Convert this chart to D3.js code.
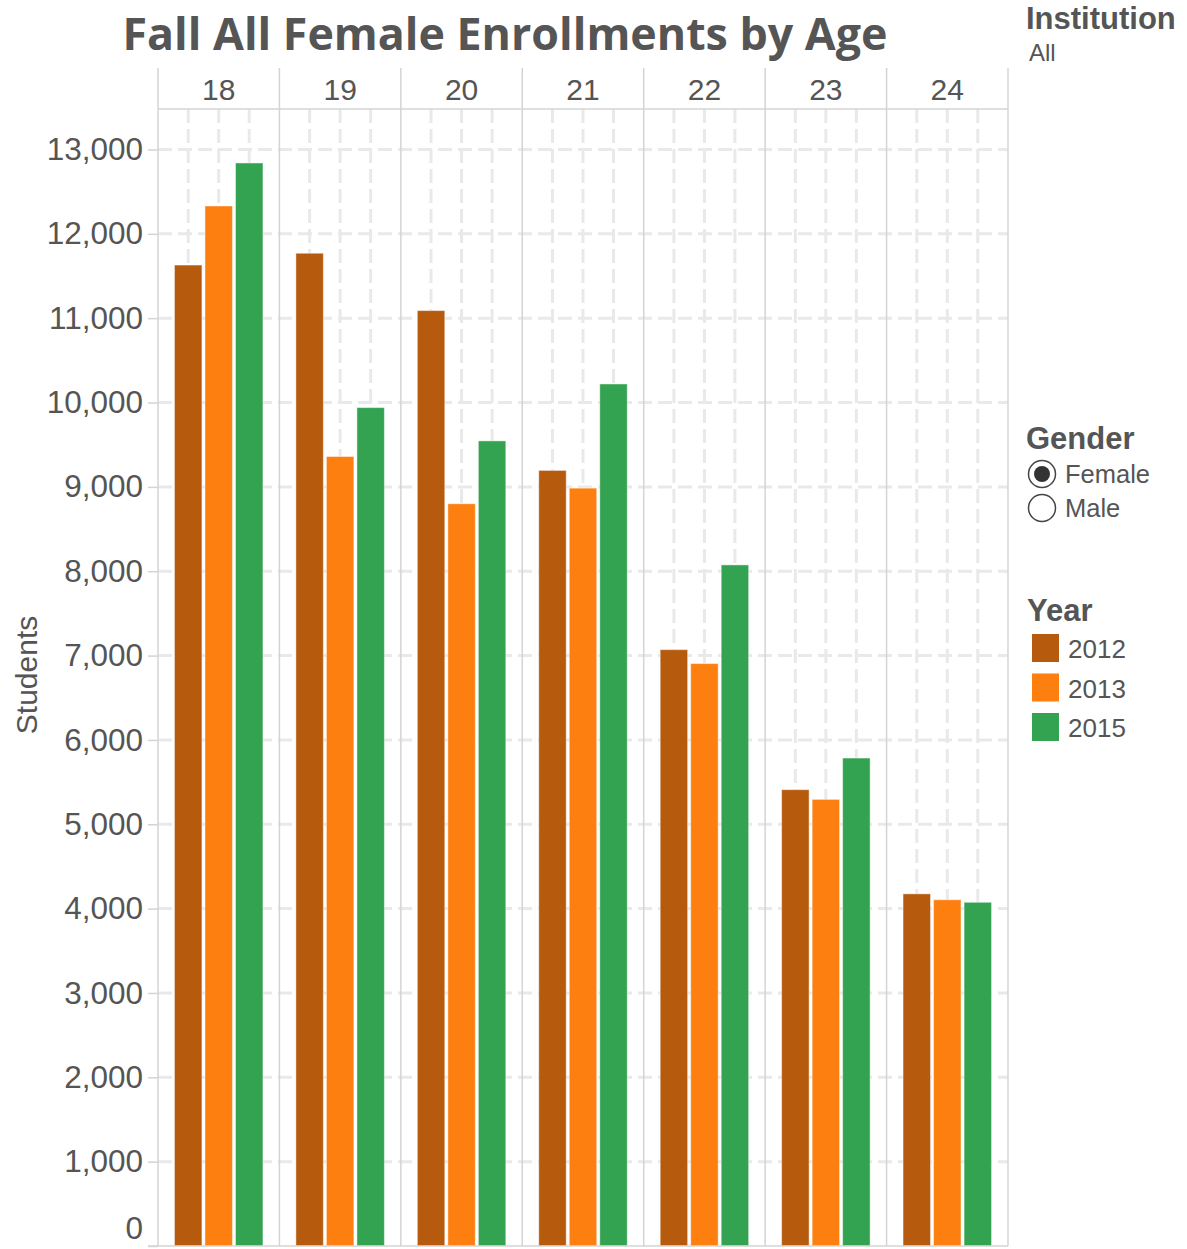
<!DOCTYPE html>
<html>
<head>
<meta charset="utf-8">
<script src="https://cdn.jsdelivr.net/npm/d3@7"></script>
<style>
  html, body { margin: 0; padding: 0; background: #ffffff; }
  svg { display: block; }
</style>
</head>
<body>
<script>
// ---------- data ----------
const ages = ["18", "19", "20", "21", "22", "23", "24"];
const years = ["2012", "2013", "2015"];
const values2012 = [11630, 11770, 11090, 9195, 7070, 5410, 4175];
const values2013 = [12330, 9360, 8800, 8985, 6905, 5295, 4105];
const values2015 = [12840, 9940, 9545, 10220, 8075, 5785, 4075];
const yTicks = [0, 1000, 2000, 3000, 4000, 5000, 6000, 7000, 8000, 9000, 10000, 11000, 12000, 13000];
const yearColors = ["#b65a0e", "#fd7f10", "#33a351"];
const genders = ["Female", "Male"];

const seriesByYear = { "2012": values2012, "2013": values2013, "2015": values2015 };

// ---------- layout ----------
const W = 1187, H = 1249;
const plotLeft = 158, plotRight = 1008, headerTop = 68, plotTop = 109, plotBottom = 1246;
const lineColor = "#d4d4d4";
const gridColor = "#e9e9e9";
const textColor = "#555555";

const svg = d3.select("body").append("svg").attr("width", W).attr("height", H);

const x0 = d3.scaleBand().domain(ages).range([plotLeft, plotRight]).padding(0);
const x1 = d3.scaleBand().domain(years).range([0, x0.bandwidth()]).paddingInner(0.1).paddingOuter(0.54);
const y = d3.scaleLinear().domain([0, 13480]).range([plotBottom, plotTop]);
const color = d3.scaleOrdinal().domain(years).range(yearColors);

// ---------- title ----------
const title = svg.append("text")
  .attr("x", 505).attr("y", 50)
  .attr("text-anchor", "middle")
  .style("font-family", "'Open Sans', sans-serif")
  .style("font-weight", 700)
  .style("font-size", "44px")
  .style("fill", textColor)
  .text("Fall All Female Enrollments by Age");
{
  const w = title.node().getComputedTextLength();
  const target = 765;
  title.style("font-size", (44 * target / w).toFixed(2) + "px");
}

// ---------- grid ----------
const grid = svg.append("g");
grid.selectAll("line.h").data(yTicks.filter(d => d > 0)).join("line")
  .attr("x1", plotLeft).attr("x2", plotRight)
  .attr("y1", d => y(d)).attr("y2", d => y(d))
  .attr("stroke", gridColor).attr("stroke-width", 3)
  .attr("stroke-dasharray", "14,6");
ages.forEach(a => {
  grid.selectAll(null).data(years).join("line")
    .attr("x1", d => x0(a) + x1(d) + x1.bandwidth() / 2)
    .attr("x2", d => x0(a) + x1(d) + x1.bandwidth() / 2)
    .attr("y1", plotTop).attr("y2", plotBottom)
    .attr("stroke", gridColor).attr("stroke-width", 3)
    .attr("stroke-dasharray", "14,6");
});

// pane separators
svg.append("g").selectAll("line").data(ages.concat(["end"])).join("line")
  .attr("x1", d => d === "end" ? plotRight : x0(d))
  .attr("x2", d => d === "end" ? plotRight : x0(d))
  .attr("y1", headerTop).attr("y2", plotBottom)
  .attr("stroke", lineColor).attr("stroke-width", 1.5);
svg.append("line")
  .attr("x1", plotLeft).attr("x2", plotRight)
  .attr("y1", plotTop).attr("y2", plotTop)
  .attr("stroke", lineColor).attr("stroke-width", 1.5);

// header labels
svg.append("g").selectAll("text").data(ages).join("text")
  .attr("x", d => x0(d) + x0.bandwidth() / 2)
  .attr("y", 100)
  .attr("text-anchor", "middle")
  .style("font-family", "'Liberation Sans', Arial, sans-serif")
  .style("font-size", "30px")
  .style("fill", textColor)
  .text(d => d);

// ---------- bars ----------
const barG = svg.append("g");
ages.forEach((a, i) => {
  barG.selectAll(null).data(years).join("rect")
    .attr("x", d => x0(a) + x1(d))
    .attr("width", x1.bandwidth())
    .attr("y", d => y(seriesByYear[d][i]))
    .attr("height", d => y(0) - y(seriesByYear[d][i]))
    .attr("fill", d => color(d))
    .attr("stroke", "rgba(255,255,255,0.45)")
    .attr("stroke-width", 1);
});

// ---------- y axis ----------
const yAxis = d3.axisLeft(y).tickValues(yTicks).tickSize(10).tickPadding(5)
  .tickFormat(d3.format(","));
const yAxisG = svg.append("g").attr("transform", `translate(${plotLeft},0)`).call(yAxis);
yAxisG.select(".domain").remove();
yAxisG.selectAll(".tick line").attr("stroke", lineColor).attr("stroke-width", 1.5);
yAxisG.selectAll(".tick text")
  .style("font-family", "'Liberation Sans', Arial, sans-serif")
  .style("font-size", "31.5px")
  .style("fill", textColor);
yAxisG.selectAll(".tick").filter(d => d === 0).select("text").attr("y", -18);

svg.append("line")
  .attr("x1", plotLeft - 10).attr("x2", plotRight)
  .attr("y1", plotBottom).attr("y2", plotBottom)
  .attr("stroke", lineColor).attr("stroke-width", 1.5);

svg.append("text")
  .attr("transform", `translate(37,675) rotate(-90)`)
  .attr("text-anchor", "middle")
  .style("font-family", "'Liberation Sans', Arial, sans-serif")
  .style("font-size", "30px")
  .style("fill", textColor)
  .text("Students");

// ---------- legends ----------
const legend = svg.append("g")
  .style("font-family", "'Liberation Sans', Arial, sans-serif")
  .style("fill", textColor);

legend.append("text").attr("x", 1026).attr("y", 29)
  .style("font-size", "31px").style("font-weight", 700).text("Institution");
legend.append("text").attr("x", 1029).attr("y", 61)
  .style("font-size", "24px").text("All");

legend.append("text").attr("x", 1026).attr("y", 449)
  .style("font-size", "31px").style("font-weight", 700).text("Gender");
const gItems = legend.selectAll("g.gender").data(genders).join("g")
  .attr("transform", (d, i) => `translate(1042,${474 + i * 34})`);
gItems.append("circle").attr("r", 13.5)
  .attr("fill", "#ffffff").attr("stroke", "#444").attr("stroke-width", 1.5);
gItems.filter(d => d === "Female").append("circle").attr("r", 8).attr("fill", "#333");
gItems.append("text").attr("x", 23).attr("y", 9)
  .style("font-size", "25.5px").text(d => d);

legend.append("text").attr("x", 1027).attr("y", 621)
  .style("font-size", "31px").style("font-weight", 700).text("Year");
const yItems = legend.selectAll("g.year").data(years).join("g")
  .attr("transform", (d, i) => `translate(1032,${634 + i * 39.5})`);
yItems.append("rect").attr("width", 27).attr("height", 28)
  .attr("fill", d => color(d));
yItems.append("text").attr("x", 36).attr("y", 24)
  .style("font-size", "26px").text(d => d);
</script>
</body>
</html>
